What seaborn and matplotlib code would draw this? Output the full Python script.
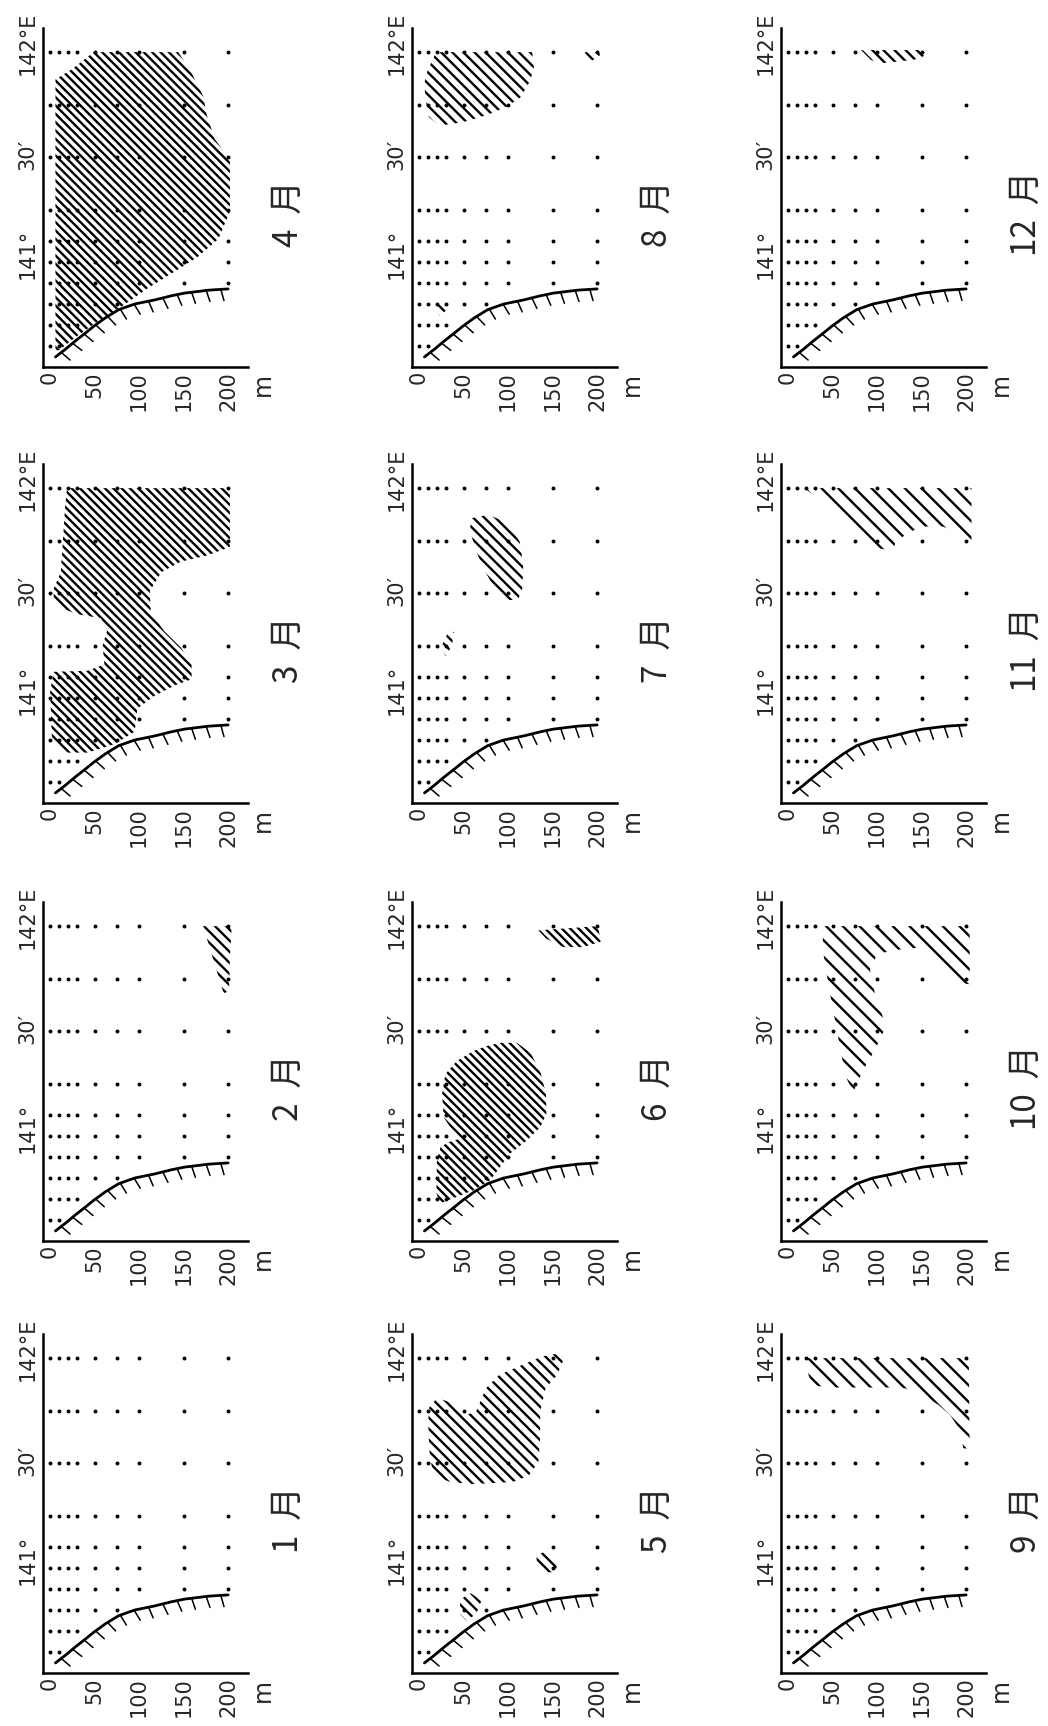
import numpy as np
import pandas as pd
import matplotlib
matplotlib.use('Agg')
import matplotlib.pyplot as plt
import matplotlib.patheffects as pe
import seaborn as sns

sns.set_style('white')
plt.rcParams['font.family'] = ['DejaVu Sans', 'Noto Sans CJK JP']
plt.rcParams['hatch.linewidth'] = 1.7

# station rows (longitude) and deepest sampled layer on each row
station_lon = [142.0, 141.75, 141.5, 141.25, 141.1, 141.0, 140.9, 140.8, 140.7, 140.6]
station_maxdepth = [200, 200, 200, 200, 200, 200, 200, 75, 30, 10]
std_depth = [0, 10, 20, 30, 50, 75, 100, 150, 200]

# sea bottom profile
bottom_depth = [6, 17, 28, 40, 49, 62, 77, 95, 118, 136, 151, 178, 200]
bottom_lon = [140.548, 140.584, 140.623, 140.663, 140.694, 140.734, 140.773,
              140.800, 140.820, 140.839, 140.852, 140.866, 140.872]

depth_ticks = [0, 50, 100, 150, 200]
lon_ticks = [141.0, 141.5, 142.0]
lon_tick_labels = ['141°', '30′', '142°E']

# hatched areas, (depth m, longitude) outlines per month
jan_patches = []

feb_d = [172, 204, 202, 201, 195, 187, 179]
feb_lon = [142.0, 142.0, 141.85, 141.69, 141.68, 141.79, 141.90]

mar_d = [19, 202, 202, 177, 147, 125, 112, 113, 128, 147, 159, 159, 140, 117, 98, 95,
         72, 42, 19, 2, 0, 4, 42, 61, 59, 64, 57, 30, 12, 4, 4, 12, 15, 17]
mar_lon = [142.0, 142.0, 141.72, 141.68, 141.65, 141.60, 141.51, 141.41, 141.32, 141.24,
           141.16, 141.09, 141.06, 141.01, 140.95, 140.84, 140.78, 140.74, 140.74, 140.81,
           141.03, 141.125, 141.13, 141.16, 141.25, 141.32, 141.38, 141.40, 141.43,
           141.475, 141.52, 141.60, 141.79, 141.92]

apr_d = [6, 6, 25, 49, 144, 159, 172, 176, 185, 202, 202, 189, 166, 140, 110, 81, 51, 28, 10]
apr_lon = [140.58, 141.87, 141.92, 142.0, 142.0, 141.90, 141.79, 141.70, 141.585, 141.49,
           141.24, 141.11, 141.025, 140.955, 140.876, 140.79, 140.71, 140.64, 140.58]

may_d = [153, 162, 155, 142, 136, 136, 134, 123, 105, 60, 35, 16, 12, 10.5, 10.5, 20,
         35, 53, 64, 75, 90, 116, 138]
may_lon = [142.02, 141.99, 141.92, 141.856, 141.745, 141.617, 141.505, 141.44, 141.41,
           141.40, 141.41, 141.44, 141.537, 141.649, 141.76, 141.81, 141.79, 141.73,
           141.745, 141.856, 141.92, 141.968, 142.008]
may_s1_d = [132, 142, 156, 153, 142, 132]
may_s1_lon = [141.06, 141.08, 141.03, 140.98, 140.98, 141.01]
may_s2_d = [46, 58, 70, 64, 53, 46]
may_s2_lon = [140.85, 140.88, 140.845, 140.78, 140.75, 140.78]

jun_d = [91, 110, 125, 136, 142.5, 143, 136, 121, 102, 91, 80, 61, 42.5, 24, 19.4, 20,
         24, 33, 46, 35, 27.6, 25.8, 29.5, 42.5, 61, 76]
jun_lon = [141.444, 141.444, 141.397, 141.31, 141.20, 141.105, 141.042, 140.979, 140.916,
           140.853, 140.79, 140.742, 140.711, 140.68, 140.727, 140.884, 140.947, 140.971,
           140.987, 141.042, 141.09, 141.20, 141.295, 141.358, 141.405, 141.429]
jun_s_d = [134, 201, 204, 184, 162, 143]
jun_s_lon = [141.98, 142.0, 141.926, 141.90, 141.90, 141.94]

jul_d = [59, 78, 100, 113, 117, 116, 111, 100, 85, 72, 63, 57]
jul_lon = [141.857, 141.873, 141.833, 141.745, 141.634, 141.523, 141.467, 141.467,
           141.523, 141.618, 141.714, 141.80]
jul_s_d = [24, 32, 39, 37, 30]
jul_s_lon = [141.236, 141.308, 141.316, 141.252, 141.20]

aug_d = [19, 127, 129, 125, 114, 98.5, 76, 49, 23, 11, 7.5, 5.7, 9.4]
aug_lon = [142.0, 142.0, 141.93, 141.865, 141.785, 141.74, 141.70, 141.666, 141.65,
           141.69, 141.77, 141.85, 141.91]
aug_s1_d = [186, 203, 203, 191]
aug_s1_lon = [142.0, 142.0, 141.984, 141.95]
aug_s2_d = [17, 28, 32, 23]
aug_s2_lon = [140.783, 140.807, 140.775, 140.743]

sep_d = [22, 203, 204, 197, 192, 182, 169, 151, 132, 113, 46, 26, 22]
sep_lon = [142.0, 142.0, 141.57, 141.57, 141.665, 141.729, 141.777, 141.825, 141.856,
           141.86, 141.86, 141.872, 141.936]

oct_d = [39, 204, 204, 194, 175.5, 157, 145, 119, 100, 92, 98, 106, 107.5, 98, 85, 73,
         66, 60, 54.5, 49, 43, 39]
oct_lon = [142.0, 142.0, 141.723, 141.73, 141.794, 141.866, 141.897, 141.886, 141.866,
           141.794, 141.668, 141.573, 141.50, 141.415, 141.32, 141.209, 141.272, 141.383,
           141.51, 141.636, 141.779, 141.889]

nov_d = [18, 206, 206, 196, 189, 174, 151, 136, 121, 117.5, 102.5, 84, 57.5, 35]
nov_lon = [142.0, 142.0, 141.72, 141.76, 141.79, 141.817, 141.817, 141.79, 141.745,
           141.70, 141.713, 141.79, 141.89, 141.95]

dec_d = [82, 156, 152, 141, 104, 93]
dec_lon = [142.01, 142.01, 141.98, 141.963, 141.947, 141.963]

patches = {
    1: jan_patches,
    2: [(feb_d, feb_lon)],
    3: [(mar_d, mar_lon)],
    4: [(apr_d, apr_lon)],
    5: [(may_d, may_lon), (may_s1_d, may_s1_lon), (may_s2_d, may_s2_lon)],
    6: [(jun_d, jun_lon), (jun_s_d, jun_s_lon)],
    7: [(jul_d, jul_lon), (jul_s_d, jul_s_lon)],
    8: [(aug_d, aug_lon), (aug_s1_d, aug_s1_lon), (aug_s2_d, aug_s2_lon)],
    9: [(sep_d, sep_lon)],
    10: [(oct_d, oct_lon)],
    11: [(nov_d, nov_lon)],
    12: [(dec_d, dec_lon)],
}
# hatch line density (number of backslashes) per month
hatch_n = {1: 2, 2: 3, 3: 4, 4: 4, 5: 3, 6: 4, 7: 3, 8: 3, 9: 2, 10: 2, 11: 2, 12: 3}

months = list(range(1, 13))
month_labels = [f'{m}  月' for m in months]

rows = [(d, lon) for lon, mx in zip(station_lon, station_maxdepth) for d in std_depth if d <= mx]
stations = pd.DataFrame(rows, columns=['depth', 'lon'])

# layout, pixels
W, H = 1048, 1726
col_left = [43, 412, 781]
row_bottom = [367, 803, 1241, 1673]
ax_w, ax_h = 204.7, 339

fig = plt.figure(figsize=(W / 100, H / 100), dpi=100)

for m, lab in zip(months, month_labels):
    col = (m - 1) // 4
    row = 3 - (m - 1) % 4
    ax = fig.add_axes([col_left[col] / W, 1 - row_bottom[row] / H, ax_w / W, ax_h / H])

    for d, lon in patches[m]:
        ax.fill(d, lon, facecolor='none', edgecolor='k', lw=0,
                hatch='\\' * hatch_n[m], zorder=2)

    sns.scatterplot(data=stations, x='depth', y='lon', ax=ax, s=8, color='k',
                    linewidth=0, zorder=3)
    sns.lineplot(x=bottom_depth, y=bottom_lon, ax=ax, sort=False, estimator=None,
                 color='k', lw=2.0, zorder=4)
    ax.lines[-1].set_path_effects([pe.withTickedStroke(angle=-78, spacing=10.5,
                                                       length=0.8, linewidth=1.1)])

    ax.set_xlim(-8, 222)
    ax.set_ylim(140.5, 142.115)
    sns.despine(ax=ax)
    for s in ['left', 'bottom']:
        ax.spines[s].set_linewidth(1.8)
        ax.spines[s].set_color('k')
    ax.set_xticks(depth_ticks)
    ax.set_xticklabels([str(t) for t in depth_ticks], rotation=90, fontsize=15)
    ax.tick_params(axis='x', direction='in', length=7, width=1.3, pad=3, color='k')
    ax.set_yticks([])
    ax.set_xlabel('')
    ax.set_ylabel('')

    starts = [140.92, 141.44, 141.89]
    for t, txt, st in zip(lon_ticks, lon_tick_labels, starts):
        ax.annotate(txt, xy=(0, st), xycoords=ax.get_yaxis_transform(),
                    xytext=(-4, 0), textcoords='offset points', rotation=90,
                    ha='right', va='bottom', fontsize=15)
    ax.annotate('m', xy=(239, 0), xycoords=ax.get_xaxis_transform(),
                xytext=(0, -4), textcoords='offset points', rotation=90,
                ha='center', va='top', fontsize=17)
    ax.text(268, 141.23, lab, rotation=90, ha='center', va='center', fontsize=24,
            family=['Noto Sans CJK JP', 'DejaVu Sans'])

fig.savefig('out.png', dpi=100)
